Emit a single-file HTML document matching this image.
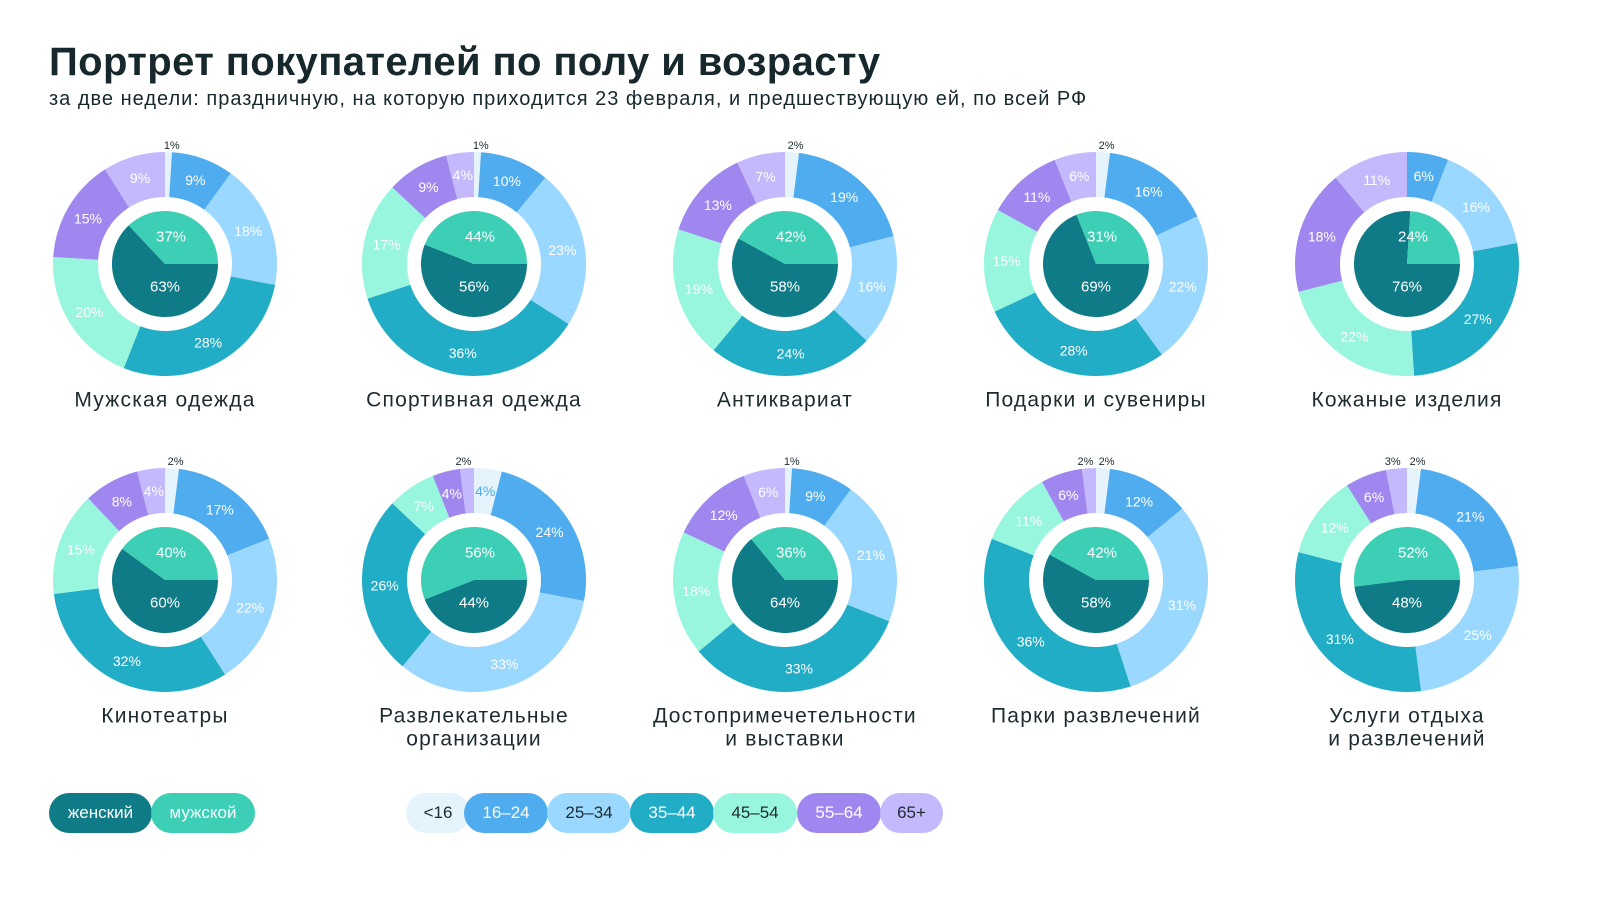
<!DOCTYPE html>
<html><head><meta charset="utf-8">
<style>
body{margin:0;width:1600px;height:900px;background:#fff;font-family:"Liberation Sans","DejaVu Sans",sans-serif;overflow:hidden;position:relative;color:#1d2b30}
#title{position:absolute;left:49px;top:40px;font-size:40px;font-weight:bold;margin:0;color:#17282d;letter-spacing:0.4px}
#sub{position:absolute;left:49px;top:88px;font-size:20px;color:#17282d;letter-spacing:1px}
.pill{position:absolute;top:793px;height:40px;border-radius:20px;font-size:17px;display:flex;align-items:center;justify-content:center}
</style></head><body>
<h1 id="title">Портрет покупателей по полу и возрасту</h1>
<div id="sub">за две недели: праздничную, на которую приходится 23 февраля, и предшествующую ей, по всей РФ</div>
<svg id="chart" width="1600" height="900" style="position:absolute;left:0;top:0"></svg>
<div class="pill" style="left:49px;width:103px;background:#0f7b87;color:#fff">женский</div>
<div class="pill" style="left:151px;width:104px;background:#3ccfb5;color:#fff">мужской</div>
<div class="pill" style="left:406px;width:64px;background:#e4f3fc;color:#1d2b30">&lt;16</div>
<div class="pill" style="left:464px;width:84px;background:#4eacef;color:#fff">16–24</div>
<div class="pill" style="left:547px;width:84px;background:#9ad8ff;color:#1d2b30">25–34</div>
<div class="pill" style="left:630px;width:84px;background:#22adc7;color:#fff">35–44</div>
<div class="pill" style="left:713px;width:84px;background:#98f5de;color:#1d2b30">45–54</div>
<div class="pill" style="left:797px;width:84px;background:#a087ef;color:#fff">55–64</div>
<div class="pill" style="left:880px;width:63px;background:#c5b9fd;color:#1d2b30">65+</div>
<script>
const categories=[["Мужская одежда"],["Спортивная одежда"],["Антиквариат"],["Подарки и сувениры"],["Кожаные изделия"],["Кинотеатры"],["Развлекательные","организации"],["Достопримечетельности","и выставки"],["Парки развлечений"],["Услуги отдыха","и развлечений"]];
const ageValues=[[1,9,18,28,20,15,9],[1,10,23,36,17,9,4],[2,19,16,24,19,13,7],[2,16,22,28,15,11,6],[0,6,16,27,22,18,11],[2,17,22,32,15,8,4],[4,24,33,26,7,4,2],[1,9,21,33,18,12,6],[2,12,31,36,11,6,2],[2,21,25,31,12,6,3]];
const femaleValues=[63,56,58,69,76,60,44,64,58,48];
const maleValues=[37,44,42,31,24,40,56,36,42,52];
const ageColors=["#e4f3fc","#4eacef","#9ad8ff","#22adc7","#98f5de","#a087ef","#c5b9fd"];
const svg=document.getElementById('chart');const NS="http://www.w3.org/2000/svg";
const cxs=[165,474,785,1096,1407],cys=[264,580];
const R=112,RI=67,RP=53;
function pt(cx,cy,r,a){const t=a*Math.PI/180;return [cx+r*Math.sin(t),cy-r*Math.cos(t)];}
function ring(cx,cy,a0,a1){const[x0,y0]=pt(cx,cy,R,a0),[x1,y1]=pt(cx,cy,R,a1),[x2,y2]=pt(cx,cy,RI,a1),[x3,y3]=pt(cx,cy,RI,a0);const l=(a1-a0)>180?1:0;return `M${x0} ${y0}A${R} ${R} 0 ${l} 1 ${x1} ${y1}L${x2} ${y2}A${RI} ${RI} 0 ${l} 0 ${x3} ${y3}Z`;}
function wedge(cx,cy,a0,a1){const[x0,y0]=pt(cx,cy,RP,a0),[x1,y1]=pt(cx,cy,RP,a1);const l=(a1-a0)>180?1:0;return `M${cx} ${cy}L${x0} ${y0}A${RP} ${RP} 0 ${l} 1 ${x1} ${y1}Z`;}
function txt(x,y,s,fill,size,name,ls){const t=document.createElementNS(NS,'text');t.setAttribute('x',x);t.setAttribute('y',y);t.setAttribute('fill',fill);t.setAttribute('font-size',size);t.setAttribute('text-anchor','middle');t.setAttribute('dominant-baseline','central');if(ls)t.setAttribute('letter-spacing',ls);t.textContent=s;


svg.appendChild(t);return t;}
categories.forEach((cat,i)=>{
 const cx=cxs[i%5],cy=cys[Math.floor(i/5)];
 const g=document.createElementNS(NS,'g');
 
 
 svg.appendChild(g);
 const tot=ageValues[i].reduce((a,b)=>a+b,0);let a=0;
 ageValues[i].forEach((v,k)=>{
  if(v<=0)return;const a1=a+v/tot*360;
  const p=document.createElementNS(NS,'path');p.setAttribute('d',ring(cx,cy,a,a1));p.setAttribute('fill',ageColors[k]);
  
  
  g.appendChild(p);
  const m=(a+a1)/2;
  if(v<=3){const[x]=pt(cx,cy,120,m);txt(x+(m>180?-3:3),cy-118,v+'%','#1d2b30',11,'age-label-outside');}
  else{const[x,y]=pt(cx,cy,(R+RI)/2,m);txt(x,y,v+'%',k==0?'#4eacef':'#fff',14,'age-label');}
  a=a1;});
 const ms=maleValues[i]/(maleValues[i]+femaleValues[i])*360;
 const pf=document.createElementNS(NS,'path');pf.setAttribute('d',wedge(cx,cy,90,450-ms));pf.setAttribute('fill','#0f7b87');
 
 
 g.appendChild(pf);
 const pm=document.createElementNS(NS,'path');pm.setAttribute('d',wedge(cx,cy,90-ms,90));pm.setAttribute('fill','#3ccfb5');
 
 
 g.appendChild(pm);
 txt(cx+6,cy-27,maleValues[i]+'%','#fff',15,'male-label');
 txt(cx,cy+23,femaleValues[i]+'%','#fff',15,'female-label');
 cat.forEach((line,j)=>txt(cx,cy+136+j*23,line,'#1d2b30',21,'category-label','1.2'));
});
</script>
</body></html>
